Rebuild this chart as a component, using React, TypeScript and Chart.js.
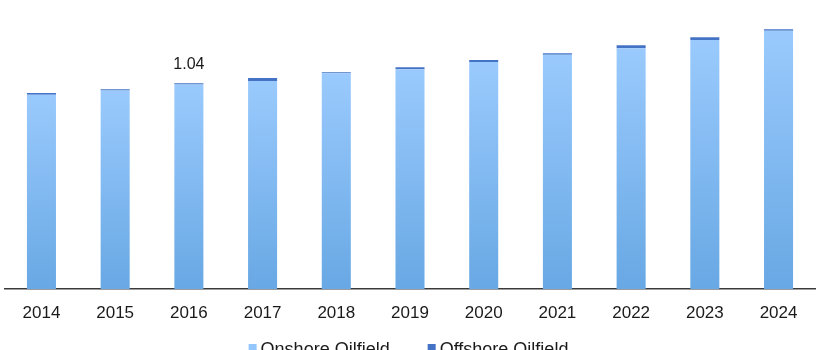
import React, { useEffect, useRef } from "react";
import { Chart, registerables } from "chart.js";

Chart.register(...registerables);

const years = ["2014", "2015", "2016", "2017", "2018", "2019", "2020", "2021", "2022", "2023", "2024"];
const onshore = [0.982, 1.003, 1.034, 1.051, 1.091, 1.111, 1.147, 1.184, 1.217, 1.258, 1.305];
const offshore = [0.008, 0.007, 0.006, 0.015, 0.005, 0.01, 0.01, 0.008, 0.015, 0.015, 0.008];
const valueLabels = ["", "", "1.04", "", "", "", "", "", "", "", ""];
const seriesNames = ["Onshore Oilfield", "Offshore Oilfield"];
const legendColors = ["#93C6FA", "#4472C4"];

const FONT = 'Arial, "Liberation Sans", sans-serif';

const valueLabelPlugin = {
  id: "valueLabels",
  afterDatasetsDraw(chart: any) {
    const { ctx } = chart;
    const meta = chart.getDatasetMeta(1);
    ctx.save();
    ctx.font = `16px ${FONT}`;
    ctx.fillStyle = "#1a1a1a";
    ctx.textAlign = "center";
    ctx.textBaseline = "middle";
    valueLabels.forEach((t, i) => {
      if (!t) return;
      const el = meta.data[i];
      if (!el) return;
      ctx.fillText(t, el.x, el.y - 18.5);
    });
    ctx.restore();
  },
};

const bottomLegendPlugin = {
  id: "bottomLegend",
  afterDraw(chart: any) {
    const { ctx } = chart;
    ctx.save();
    ctx.font = `18px ${FONT}`;
    ctx.textBaseline = "alphabetic";
    ctx.textAlign = "left";
    const box = 8;
    const gap = 4;
    const spacing = 38;
    const widths = seriesNames.map((n) => ctx.measureText(n).width);
    const total = widths.reduce((a, w) => a + box + gap + w, 0) + spacing * (seriesNames.length - 1);
    const center = (chart.chartArea.left + chart.chartArea.right) / 2 - 1.5;
    let x = center - total / 2;
    seriesNames.forEach((n, i) => {
      ctx.fillStyle = legendColors[i];
      ctx.fillRect(x, 344, box, box);
      ctx.fillStyle = "#1a1a1a";
      ctx.fillText(n, x + box + gap, 355);
      x += box + gap + widths[i] + spacing;
    });
    ctx.restore();
  },
};

export default function App() {
  const ref = useRef<HTMLCanvasElement | null>(null);
  useEffect(() => {
    if (!ref.current) return;
    const chart = new Chart(ref.current, {
      type: "bar",
      data: {
        labels: years,
        datasets: [
          {
            label: seriesNames[0],
            data: onshore,
            backgroundColor: (c: any) => {
              const ch = c.chart;
              const y = ch.scales && ch.scales.y;
              if (!y || c.type !== "data") return legendColors[0];
              const top = y.getPixelForValue(onshore[c.dataIndex]);
              const bottom = y.getPixelForValue(0);
              if (!isFinite(top) || !isFinite(bottom) || bottom - top < 1) return legendColors[0];
              const g = ch.ctx.createLinearGradient(0, top, 0, bottom);
              g.addColorStop(0, "#9ACAFD");
              g.addColorStop(1, "#68A8E4");
              return g;
            },
            borderWidth: 0,
            barPercentage: 0.394,
            categoryPercentage: 1,
          },
          {
            label: seriesNames[1],
            data: offshore,
            backgroundColor: legendColors[1],
            borderWidth: 0,
            barPercentage: 0.394,
            categoryPercentage: 1,
          },
        ],
      },
      options: {
        animation: false,
        responsive: true,
        maintainAspectRatio: false,
        layout: { padding: { top: 12, left: 4.6, right: 4.6, bottom: 12.6 } },
        plugins: {
          tooltip: { enabled: false },
          legend: { display: false },
        },
        scales: {
          x: {
            stacked: true,
            grid: { display: false, drawTicks: false },
            border: { display: true, color: "#3a3a3a", width: 1.5 },
            ticks: {
              font: { family: FONT, size: 17 },
              color: "#1a1a1a",
              padding: 14,
            },
          },
          y: {
            stacked: true,
            display: false,
            min: 0,
            max: 1.4,
          },
        },
      },
      plugins: [valueLabelPlugin, bottomLegendPlugin],
    });
    return () => chart.destroy();
  }, []);
  return (
    <div style={{ position: "absolute", left: 0, top: 0, width: 820, height: 350, overflow: "hidden", background: "#fff" }}>
      <div style={{ position: "relative", width: 820, height: 350 }}>
        <canvas ref={ref} />
      </div>
    </div>
  );
}
